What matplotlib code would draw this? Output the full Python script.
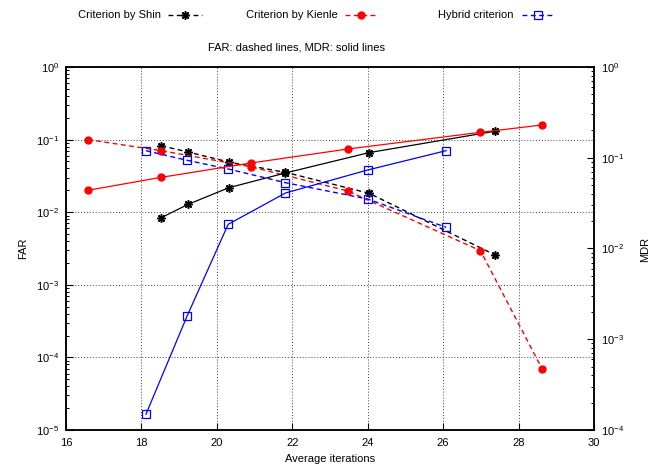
import matplotlib
matplotlib.use("Agg")
import matplotlib.pyplot as plt
from matplotlib.lines import Line2D
from matplotlib.ticker import LogLocator, NullFormatter

plt.rcParams['font.family'] = ['Liberation Sans', 'DejaVu Sans']
plt.rcParams['font.size'] = 8
plt.rcParams['axes.unicode_minus'] = False

# Criterion by Shin
shin_iter = [18.53, 19.24, 20.32, 21.82, 24.04, 27.38]
shin_far = [0.082, 0.0675, 0.049, 0.0354, 0.0182, 0.00257]
shin_mdr = [0.0219, 0.0307, 0.0468, 0.068, 0.114, 0.196]

# Criterion by Kienle
kienle_iter = [16.58, 18.53, 20.90, 23.47, 26.99, 28.62]
kienle_far = [0.1, 0.0703, 0.0423, 0.0196, 0.00295, 7.0e-5]
kienle_mdr = [0.0438, 0.0609, 0.0875, 0.1248, 0.1906, 0.2296]

# Hybrid criterion
hybrid_iter = [18.12, 19.21, 20.30, 21.82, 24.00, 26.08]
hybrid_far = [0.0703, 0.0519, 0.0394, 0.0255, 0.0152, 0.00619]
hybrid_mdr = [1.49e-4, 0.0018, 0.01847, 0.0409, 0.0733, 0.1197]

series_names = ["Criterion by Shin", "Criterion by Kienle", "Hybrid criterion"]
x_ticks = [16, 18, 20, 22, 24, 26, 28, 30]

W, H = 657, 473
fig = plt.figure(figsize=(W / 100, H / 100), dpi=100)
ax = fig.add_axes([66 / W, 1 - 430 / H, (594 - 66) / W, (430 - 67) / H])
ax2 = ax.twinx()

dash = (3.5, 2.5)
styles = [
    dict(color='black', marker=(8, 2, 0), ms=6, mfc='black', mec='black', mew=1.1),
    dict(color='red', marker='o', ms=5, mfc='red', mec='red', mew=1.0),
    dict(color='blue', marker='s', ms=5.5, mfc='none', mec='blue', mew=0.9),
]
data = [(shin_iter, shin_far, shin_mdr),
        (kienle_iter, kienle_far, kienle_mdr),
        (hybrid_iter, hybrid_far, hybrid_mdr)]

for (xs, far, mdr), st in zip(data, styles):
    ax.plot(xs, far, lw=1.0, dashes=dash, zorder=3, **st)
    ax2.plot(xs, mdr, lw=0.9, zorder=3, **st)

ax.set_xlim(16, 30)
ax.set_yscale('log')
ax.set_ylim(1e-5, 1)
ax2.set_yscale('log')
ax2.set_ylim(1e-4, 1)
ax.set_xticks(x_ticks)

for a in (ax, ax2):
    a.yaxis.set_major_locator(LogLocator(base=10, numticks=10))
    a.yaxis.set_minor_locator(LogLocator(base=10, subs=range(2, 10), numticks=20))
    a.yaxis.set_minor_formatter(NullFormatter())
    for s in a.spines.values():
        s.set_linewidth(1.1)

ax.tick_params(axis='both', which='major', direction='in', length=5, width=0.8,
               labelsize=8, pad=5)
ax.tick_params(axis='y', which='minor', direction='in', length=2.5, width=0.7)
ax.tick_params(axis='x', pad=6)
ax2.tick_params(axis='y', which='major', direction='in', length=5, width=0.8,
                labelsize=8, pad=5)
ax2.tick_params(axis='y', which='minor', direction='in', length=2.5, width=0.7)

ax.grid(True, which='major', color='0.25', linestyle=(0, (1, 2)), linewidth=0.7)
ax.set_axisbelow(True)

ax.set_xlabel("Average iterations", fontsize=8, labelpad=4)
fig.text(23 / W, 1 - 248 / H, "FAR", rotation=90, ha='center', va='center', fontsize=8)
fig.text(645 / W, 1 - 249 / H, "MDR", rotation=90, ha='center', va='center', fontsize=8)

fig.text(296 / W, 1 - 48 / H, "FAR: dashed lines, MDR: solid lines",
         ha='center', va='center', fontsize=8)

# key along the top: label, then a short dashed sample with its marker
key_text_right = [161, 338, 514]
key_sample = [(168, 202), (345, 377), (522, 554)]
key_y = 1 - 15 / H
for name, xr, (x0, x1), st in zip(series_names, key_text_right, key_sample, styles):
    fig.text(xr / W, key_y, name, ha='right', va='center', fontsize=8)
    fig.add_artist(Line2D([x0 / W, x1 / W], [key_y, key_y], lw=1.0, dashes=dash,
                          color=st['color'], transform=fig.transFigure))
    m = {k: v for k, v in st.items() if k != 'color'}
    fig.add_artist(Line2D([(x0 + x1) / 2 / W], [key_y], linestyle='none',
                          transform=fig.transFigure, **m))

fig.savefig("out.png", dpi=100)
